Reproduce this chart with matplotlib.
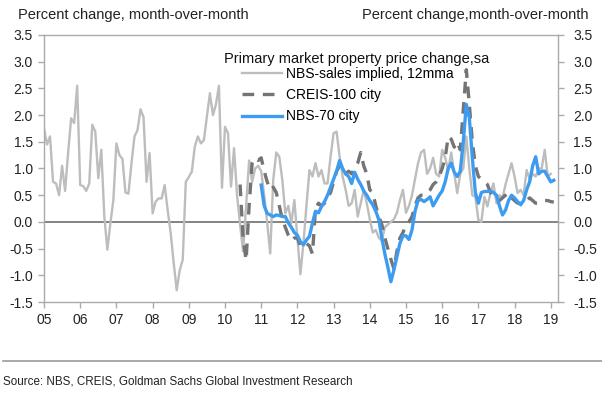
import numpy as np
import matplotlib
matplotlib.use("Agg")
import matplotlib.pyplot as plt
from matplotlib.ticker import FormatStrFormatter
from matplotlib import font_manager

plt.rcParams['font.family'] = ['Liberation Sans', 'DejaVu Sans']
plt.rcParams['axes.unicode_minus'] = False

# monthly series, % mom
sales_start = 2005.0          # Jan 2005
sales_implied = [
    1.75, 1.45, 1.6, 0.75, 0.72, 0.5, 1.05, 0.58, 1.3, 1.94,
    1.85, 2.55, 0.69, 0.67, 0.58, 0.72, 1.82, 1.69, 0.82, 1.35,
    0.10, -0.52, -0.03, 0.41, 1.47, 1.25, 1.18, 0.55, 0.53, 1.1,
    1.6, 1.72, 2.11, 1.96, 0.75, 1.29, 0.16, 0.38, 0.44, 0.44,
    0.69, 0.22, -0.21, -0.77, -1.28, -0.9, -0.71, 0.75, 0.84, 0.94,
    1.41, 1.6, 1.47, 1.53, 1.97, 2.41, 2.0, 2.2, 2.55, 0.64,
    1.78, 1.66, 0.66, 1.38, 0.5, -0.05, -0.55, 0.3, 1.15, 0.75,
    1.0, 1.05, 0.95, 0.5, -0.02, -0.59, 0.79, 1.3, 1.22, 0.79,
    0.16, 0.3, -0.02, 0.41, -0.3, -0.98, -0.4, 0.3, 0.97, 0.85,
    1.1, 0.85, 0.97, 0.72, 0.72, 1.22, 1.66, 1.69, 1.22, 0.85,
    0.6, 0.3, 0.35, 0.6, 0.1, 0.35, 0.6, 0.35, 0.05, -0.2,
    -0.15, -0.3, -0.35, -0.1, -0.05, 0.0, 0.05, 0.17, 0.41, 0.6,
    0.17, 0.3, 0.5, 0.8, 1.1, 1.3, 1.35, 0.9, 1.0, 1.2,
    0.9, 0.85, 1.35, 1.2, 0.97, 1.3, 0.9, 0.54, 0.9, 1.0,
    1.6, 1.0, 0.5, 0.47, 0.04, 0.0, 0.47, 0.29, 0.54, 0.72,
    0.35, 0.5, 0.45, 0.7, 0.9, 1.1, 0.85, 0.54, 0.6, 0.5,
    0.97, 0.8, 0.9, 0.85, 1.0, 1.0, 1.35, 0.85, 0.9,
]

creis_start = 2005.0 + 65 / 12   # Jun 2010
creis_100 = [
    0.7, -0.3, -0.72, 0.3, 1.1,
    1.2, 1.15, 1.2, 0.95, 0.75, 0.6, 0.65, 0.55, 0.3, 0.05,
    -0.1, -0.25, -0.35, -0.3, -0.3, -0.45, -0.4, -0.4, -0.45, -0.6,
    0.25, 0.35, 0.3, 0.35, 0.45, 0.55, 0.75, 0.95, 1.05, 1.0,
    0.9, 0.95, 0.9, 1.0, 1.1, 1.3, 1.05, 0.9, 0.6, 0.55,
    0.3, 0.1, -0.05, -0.3, -0.5, -0.7, -0.88, -0.55, -0.3, -0.2,
    -0.05, 0.0, 0.1, 0.3, 0.45, 0.5, 0.5, 0.55, 0.6, 0.7,
    0.75, 0.85, 1.0, 1.2, 1.6, 1.55, 1.4, 1.5, 1.35, 2.1,
    2.85, 2.2, 1.5, 1.05, 0.85, 0.8, 0.75, 0.7, 0.55, 0.45,
    0.4, 0.4, 0.45, 0.5, 0.55, 0.45, 0.4, 0.35, 0.35, 0.35,
    0.4, 0.45, 0.4, 0.35, 0.35, 0.38, 0.4, 0.4, 0.38, 0.37,
]

nbs70_start = 2011.0             # Jan 2011
nbs_70 = [
    0.69, 0.3, 0.16, 0.13, 0.1, 0.13, 0.12, 0.1,
    0.1, -0.02, -0.1, -0.2, -0.25, -0.37, -0.43, -0.34, -0.27, -0.02,
    0.2, 0.17, 0.29, 0.38, 0.5, 0.65, 0.8, 0.95, 1.15, 1.0,
    0.9, 0.85, 0.72, 0.93, 0.8, 0.7, 0.58, 0.5, 0.4, 0.32,
    0.2, 0.04, -0.3, -0.6, -0.85, -1.12, -0.9, -0.65, -0.4, -0.26,
    -0.26, -0.33, -0.15, 0.2, 0.4, 0.42, 0.38, 0.42, 0.47, 0.3,
    0.4, 0.5, 0.58, 0.75, 1.0, 1.1, 0.93, 0.85, 0.95, 1.5,
    2.2, 1.95, 1.2, 0.55, 0.35, 0.55, 0.57, 0.57, 0.58, 0.55,
    0.5, 0.3, 0.13, 0.22, 0.4, 0.5, 0.45, 0.38, 0.32, 0.4,
    0.6, 0.75, 1.05, 1.22, 0.9, 0.95, 0.95, 0.85, 0.75, 0.78,
]

years = list(range(2005, 2020))
year_labels = [f"{y % 100:02d}" for y in years]
yticks = [-1.5, -1.0, -0.5, 0.0, 0.5, 1.0, 1.5, 2.0, 2.5, 3.0, 3.5]


def month_axis(start, values):
    return start + np.arange(len(values)) / 12


W, H = 602, 398
fig = plt.figure(figsize=(W / 100, H / 100), dpi=100)
ax = fig.add_axes([44 / W, 1 - 302 / H, (558 - 44) / W, (302 - 35) / H])

spine_col = '#aaaaaa'
ax.axhline(0, color='#6e6e6e', lw=1.2, zorder=1)
l1, = ax.plot(month_axis(sales_start, sales_implied), sales_implied,
              color='#bdbdbd', lw=1.7, zorder=2, label='NBS-sales implied, 12mma')
l2, = ax.plot(month_axis(creis_start, creis_100), creis_100,
              color='#747474', lw=2.4, ls=(0, (3.5, 2.6)), zorder=3,
              label='CREIS-100 city')
l3, = ax.plot(month_axis(nbs70_start, nbs_70), nbs_70,
              color='#3d9cf0', lw=2.4, zorder=4, label='NBS-70 city')

ax.set_xlim(2005.0, 2019.2)
ax.set_ylim(-1.5, 3.5)
ax.set_xticks(years)
ax.set_xticklabels(year_labels)
ax.set_yticks(yticks)
ax.yaxis.set_major_formatter(FormatStrFormatter('%.1f'))
for s in ax.spines.values():
    s.set_color(spine_col)
    s.set_linewidth(1.0)
ax.tick_params(axis='both', direction='out', length=4, width=1.0,
               color=spine_col, labelsize=10, labelcolor='#222222')
ax.tick_params(axis='x', pad=4)
ax.tick_params(axis='y', pad=4)

ax2 = ax.twinx()
ax2.set_ylim(-1.5, 3.5)
ax2.set_yticks(yticks)
ax2.yaxis.set_major_formatter(FormatStrFormatter('%.1f'))
for s in ax2.spines.values():
    s.set_visible(False)
ax2.tick_params(axis='y', direction='out', length=4, width=1.0,
                color=spine_col, labelsize=10, labelcolor='#222222', pad=7)

fig.text(18 / W, 1 - 15 / H, 'Percent change, month-over-month',
         fontsize=10.5, va='center', ha='left', color='#222222')
fig.text(589 / W, 1 - 15 / H, 'Percent change,month-over-month',
         fontsize=10.5, va='center', ha='right', color='#222222')

fig.text(224 / W, 1 - 59 / H, 'Primary market property price change,sa',
         fontsize=10.5, va='center', ha='left', color='#111111')
ax.legend(handles=[l1, l2, l3], loc='upper left',
          bbox_to_anchor=(242 / W, 1 - 67 / H), bbox_transform=fig.transFigure,
          frameon=False, fontsize=10, handlelength=2.9, handletextpad=0.25,
          borderpad=0, borderaxespad=0, labelspacing=0.52)

fig.add_artist(plt.Line2D([3 / W, 1.0], [1 - 361 / H] * 2,
                          transform=fig.transFigure, color='#9a9a9a', lw=1.2))

# source line is set in a narrow face; pick whichever condensed family exists
installed = {f.name for f in font_manager.fontManager.ttflist}
narrow = [f for f in ['Liberation Sans Narrow', 'DejaVu Sans Condensed'] if f in installed]
src_kw = dict(family=narrow[0]) if narrow else dict(fontstretch='condensed')
src_size = 10.5 if narrow else 8.4
fig.text(3 / W, 1 - 381 / H,
         'Source: NBS, CREIS, Goldman Sachs Global Investment Research',
         fontsize=src_size, va='center', ha='left', color='#222222', **src_kw)

fig.savefig('out.png', dpi=100)
